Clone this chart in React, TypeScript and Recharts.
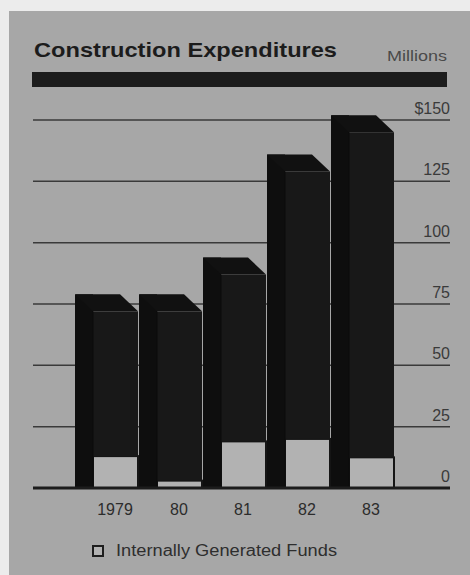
import { BarChart, Bar, XAxis, YAxis, CartesianGrid, ReferenceLine, Legend } from 'recharts';

// values (millions of dollars)
const years = ['1979', '80', '81', '82', '83'];
const totalSpend = [72, 72, 87, 129, 145];
const internalFunds = [13, 3, 19, 20, 12.5];
const yTicks = [0, 25, 50, 75, 100, 125, 150];

const data = years.map((year, i) => ({
  year,
  internal: internalFunds[i],
  external: totalSpend[i] - internalFunds[i],
}));

// 3D depth of each block (back face goes up and to the left)
const DX = 18;
const DY = 17;

const FONT = '"Liberation Sans", Arial, Helvetica, sans-serif';

function DarkBlock(props: any) {
  const { x, y, width, height, background, payload } = props;
  if (width == null || height == null) return null;
  let base = y + height;
  if (background && background.height) {
    base = background.y + background.height;
  } else if (payload && payload.external) {
    base = y + height + (payload.internal * height) / payload.external;
  }
  const top = `${x - DX},${y - DY} ${x + width - DX},${y - DY} ${x + width},${y} ${x},${y}`;
  return (
    <g>
      <rect x={x - DX} y={y - DY} width={DX} height={base - y + DY} fill="#0e0e0e" />
      <polygon points={top} fill="#111" />
      <rect x={x} y={y} width={width} height={height} fill="#181818" />
      <line x1={x} y1={y} x2={x} y2={base} stroke="#0a0a0a" strokeWidth={1} />
    </g>
  );
}

function LightBlock(props: any) {
  const { x, y, width, height } = props;
  if (!height) return null;
  return (
    <rect x={x} y={y} width={width} height={height} fill="#b2b2b2" stroke="#151515" strokeWidth={2} />
  );
}

const YearTick = (p: any) => (
  <text x={p.x} y={p.y + 27} textAnchor="middle" fontSize={16} fill="#2c2c2c" fontFamily={FONT}>
    {p.payload.value}
  </text>
);

const ValueTick = (p: any) => (
  <text x={p.x} y={p.y - 6} textAnchor="end" fontSize={16} fill="#3a3a3a" fontFamily={FONT}>
    {p.payload.value === 150 ? '$150' : p.payload.value}
  </text>
);

const LegendBox = () => (
  <div style={{ display: 'flex', alignItems: 'center', marginLeft: 92, paddingTop: 23, fontFamily: FONT }}>
    <span style={{ width: 8, height: 8, border: '2px solid #1e1e1e', background: '#b2b2b2', display: 'inline-block' }} />
    <svg width={240} height={20} style={{ marginLeft: 12 }}>
      <text x={0} y={15} fontSize={16} fill="#2e2e2e" textLength={221} lengthAdjust="spacingAndGlyphs">
        Internally Generated Funds
      </text>
    </svg>
  </div>
);

export default function App() {
  return (
    <div style={{ position: 'absolute', left: 0, top: 0, width: 470, height: 575, background: '#ececec', fontFamily: FONT }}>
      <div style={{ position: 'absolute', left: 9, top: 11, right: 0, bottom: 0, background: '#a7a7a7' }} />
      <svg width={470} height={575} style={{ position: 'absolute', left: 0, top: 0 }}>
        <text x={34} y={57} fontSize={21} fontWeight="bold" fill="#1c1c1c" textLength={303} lengthAdjust="spacingAndGlyphs">
          Construction Expenditures
        </text>
        <text x={447} y={61} fontSize={14} fill="#4a4a4a" textAnchor="end" textLength={60} lengthAdjust="spacingAndGlyphs">
          Millions
        </text>
        <rect x={32} y={72} width={415} height={15} fill="#1c1c1c" />
      </svg>
      <div style={{ position: 'absolute', left: 0, top: 0 }}>
        <BarChart
          width={470}
          height={575}
          data={data}
          margin={{ top: 120, right: 19, left: 33, bottom: 17 }}
          barSize={45}
        >
          <CartesianGrid vertical={false} stroke="#3a3a3a" strokeWidth={1.5} />
          <XAxis
            dataKey="year"
            axisLine={false}
            tickLine={false}
            tickSize={0}
            tickMargin={0}
            height={30}
            padding={{ left: 50, right: 47 }}
            tick={YearTick}
          />
          <YAxis
            orientation="right"
            domain={[0, 150]}
            ticks={yTicks}
            width={1}
            axisLine={false}
            tickLine={false}
            tickSize={0}
            tickMargin={0}
            tick={ValueTick}
            interval={0}
          />
          <Bar dataKey="internal" stackId="a" shape={LightBlock} isAnimationActive={false} />
          <Bar dataKey="external" stackId="a" shape={DarkBlock} isAnimationActive={false} />
          <ReferenceLine y={0} stroke="#1c1c1c" strokeWidth={3} />
          <Legend verticalAlign="bottom" height={40} wrapperStyle={{ left: 0, width: 470 }} content={LegendBox} />
        </BarChart>
      </div>
    </div>
  );
}
